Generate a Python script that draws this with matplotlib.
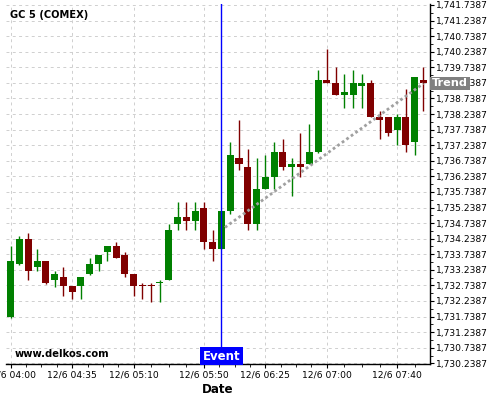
import matplotlib
matplotlib.use("Agg")
import matplotlib.pyplot as plt
from matplotlib.ticker import FixedLocator, MultipleLocator, FuncFormatter, AutoMinorLocator
import matplotlib.transforms as mtrans

# ---- data ----
opens = [1731.73, 1733.43, 1734.23, 1733.33, 1733.52, 1732.91, 1733.01, 1732.72,
         1732.72, 1733.10, 1733.43, 1733.81, 1734.00, 1733.71, 1733.10, 1732.75,
         1732.75, 1732.83, 1732.91, 1734.71, 1734.93, 1734.81, 1735.22, 1734.13,
         1733.91, 1735.13, 1736.83, 1736.54, 1734.72, 1735.83, 1736.22, 1737.02,
         1736.54, 1736.64, 1736.64, 1737.02, 1739.33, 1739.23, 1738.85, 1738.85,
         1739.14, 1739.23, 1738.14, 1738.14, 1737.73, 1738.14, 1737.34, 1739.33]
highs = [1734.01, 1734.32, 1734.42, 1733.91, 1733.52, 1733.20, 1733.33, 1732.72,
         1733.01, 1733.62, 1733.71, 1734.00, 1734.13, 1733.81, 1733.10, 1732.82,
         1732.82, 1732.91, 1734.71, 1735.41, 1735.41, 1735.41, 1735.41, 1734.52,
         1735.13, 1737.34, 1738.05, 1737.12, 1736.83, 1736.92, 1737.33, 1737.44,
         1736.83, 1737.62, 1737.91, 1739.65, 1740.32, 1739.75, 1739.52, 1739.65,
         1739.52, 1739.33, 1738.34, 1738.14, 1738.24, 1739.04, 1739.43, 1739.75]
lows = [1731.70, 1733.40, 1732.91, 1733.19, 1732.78, 1732.69, 1732.40, 1732.29,
        1732.29, 1733.07, 1733.20, 1733.52, 1733.62, 1733.01, 1732.40, 1732.30,
        1732.21, 1732.20, 1732.91, 1734.52, 1734.52, 1734.52, 1733.91, 1733.52,
        1733.91, 1735.03, 1736.44, 1734.53, 1734.53, 1735.83, 1735.83, 1736.44,
        1735.60, 1736.22, 1736.64, 1736.99, 1739.23, 1738.85, 1738.43, 1738.43,
        1738.43, 1738.14, 1737.44, 1737.53, 1737.24, 1737.02, 1736.92, 1738.34]
closes = [1733.52, 1734.23, 1733.20, 1733.52, 1732.82, 1733.10, 1732.72, 1732.53,
          1733.01, 1733.43, 1733.71, 1734.00, 1733.62, 1733.10, 1732.72, 1732.73,
          1732.73, 1732.85, 1734.52, 1734.93, 1734.81, 1735.13, 1734.13, 1733.91,
          1735.13, 1736.92, 1736.64, 1734.72, 1735.83, 1736.22, 1737.02, 1736.54,
          1736.64, 1736.54, 1737.02, 1739.33, 1739.23, 1738.85, 1738.95, 1739.23,
          1739.23, 1738.14, 1738.05, 1737.63, 1738.14, 1737.24, 1739.43, 1739.24]

tick_idx = [0, 7, 14, 22, 29, 36, 44]
tick_labels = ["12/6 04:00", "12/6 04:35", "12/6 05:10", "12/6 05:50",
               "12/6 06:25", "12/6 07:00", "12/6 07:40"]

event_idx = 24
trend_x = [24.4, 47.0]
trend_y = [1734.60, 1739.22]

y_base = 1730.2387
y_top = 1741.7387

title = "GC 5 (COMEX)"
watermark = "www.delkos.com"

UP = "#008000"
DOWN = "#800000"

fig = plt.figure(figsize=(5, 4), dpi=100)
ax = fig.add_axes([6.3 / 500, 36 / 400, (430 - 6.3) / 500, 360 / 400])

for i, (o, h, l, c) in enumerate(zip(opens, highs, lows, closes)):
    col = UP if c >= o else DOWN
    ax.vlines(i, l, h, color=col, linewidth=1.0, zorder=3)
    body = max(abs(c - o), 0.035)
    bottom = min(o, c) if abs(c - o) >= 0.035 else (o + c) / 2 - 0.0175
    ax.bar(i, body, bottom=bottom, width=0.8, color=col, linewidth=0, zorder=4)

# trend line
ax.plot(trend_x, trend_y, linestyle=(0, (1, 1)), color="#a0a0a0", linewidth=2.0, zorder=5)

# event line
ax.axvline(event_idx, color="#0000ff", linewidth=1.0, zorder=6)

ax.set_xlim(-0.5, 47.75)
ax.set_ylim(y_base - 0.022, y_top + 0.032)

# axes styling
for s in ["left", "top"]:
    ax.spines[s].set_visible(False)
ax.spines["bottom"].set_linewidth(1.0)
ax.spines["right"].set_linewidth(1.0)

ax.yaxis.tick_right()
ax.yaxis.set_major_locator(MultipleLocator(0.5, offset=y_base % 0.5))
ax.yaxis.set_minor_locator(AutoMinorLocator(2))
ax.yaxis.set_major_formatter(FuncFormatter(lambda v, p: f"{v:,.4f}"))
ax.tick_params(axis="y", which="major", length=3, labelsize=6.6, pad=1.5, colors="black")
ax.tick_params(axis="y", which="minor", length=2)

ax.xaxis.set_major_locator(FixedLocator(tick_idx))
ax.set_xticklabels(tick_labels)
minor = []
bounds = tick_idx + [tick_idx[-1] + 8]
for a, b in zip(bounds[:-1], bounds[1:]):
    for k in range(1, 4):
        minor.append(a + (b - a) * k / 4)
ax.xaxis.set_minor_locator(FixedLocator(minor))
ax.tick_params(axis="x", which="major", length=3, labelsize=6.6, pad=2)
ax.tick_params(axis="x", which="minor", length=2)

ax.grid(True, which="major", color="#cfcfcf", linestyle=(0, (3, 3.5)), linewidth=0.7, zorder=0)
ax.set_axisbelow(True)

ax.set_xlabel("Date", fontsize=8.6, fontweight="bold", labelpad=2)

# texts
fig.text(10 / 500, 1 - 15.3 / 400, title, fontsize=7.1, fontweight="bold", ha="left", va="center")
fig.text(15 / 500, 1 - 354 / 400, watermark, fontsize=7.2, fontweight="bold",
         ha="left", va="center", zorder=7)

# event label
ax.text(event_idx, (364 - 356) / 360, "Event", transform=mtrans.blended_transform_factory(ax.transData, ax.transAxes),
        ha="center", va="center", fontsize=8.5, fontweight="bold", color="white", zorder=8,
        bbox=dict(boxstyle="square,pad=0.2", facecolor="#0000ff", edgecolor="none"))

# trend label
ax.text(1.0 + 2 / 424, trend_y[-1], "Trend", transform=mtrans.blended_transform_factory(ax.transAxes, ax.transData),
        ha="left", va="center", fontsize=8.1, fontweight="bold", color="white", zorder=8, clip_on=False,
        bbox=dict(boxstyle="square,pad=0.15", facecolor="#808080", edgecolor="none"))

fig.savefig("out.png", dpi=100)
